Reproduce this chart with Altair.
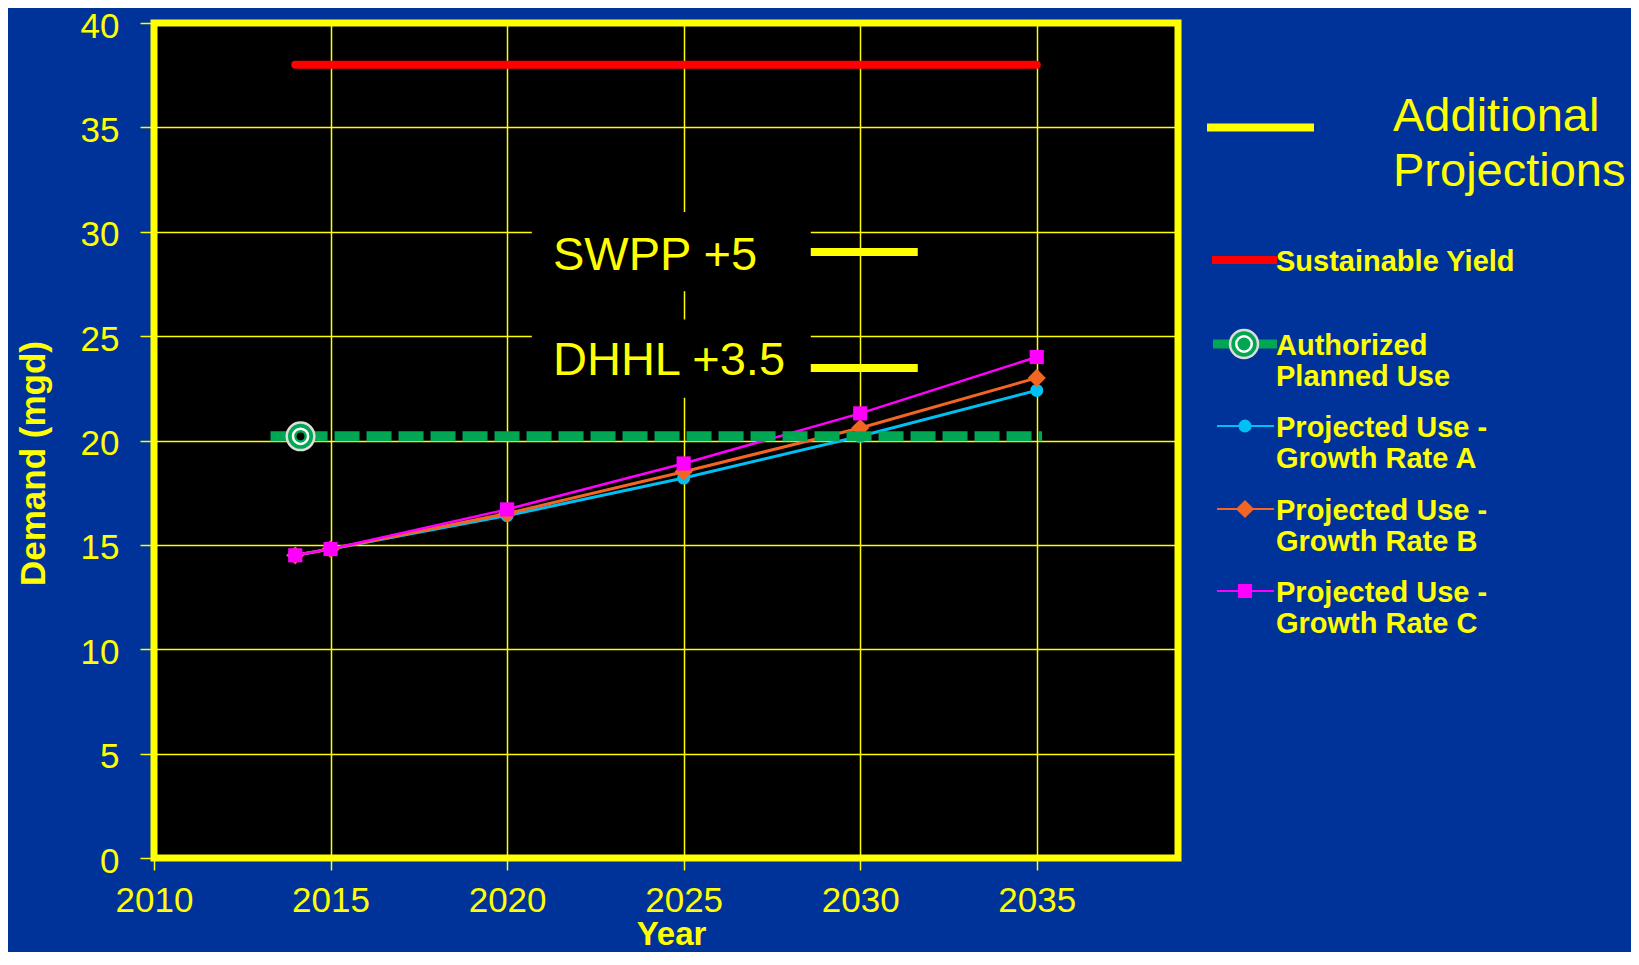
import altair as alt
import pandas as pd

# ---------------- data ----------------
years = [2014, 2015, 2020, 2025, 2030, 2035]
growth_a = [14.5, 14.8, 16.4, 18.2, 20.2, 22.4]
growth_b = [14.5, 14.8, 16.5, 18.5, 20.6, 23.0]
growth_c = [14.5, 14.8, 16.7, 18.9, 21.3, 24.0]
series_names = ["Projected Use - Growth Rate A", "Projected Use - Growth Rate B", "Projected Use - Growth Rate C"]
series_colors = ["#00BFF3", "#F26522", "#FF00FF"]
series_shapes = ["circle", "diamond", "square"]
series_sizes = [170, 330, 200]

yield_years = [2014, 2035]
yield_values = [38.0, 38.0]
planned_years = [2013.3, 2035.15]
planned_values = [20.2, 20.2]
planned_marker_year = [2014.15]
planned_marker_value = [20.2]

note_labels = ["SWPP +5", "DHHL +3.5"]
note_text_x = [2021.3, 2021.3]
note_text_y = [28.17, 23.14]
note_box_x0 = [2020.7, 2020.7]
note_box_x1 = [2028.6, 2028.6]
note_box_y0 = [27.15, 22.05]
note_box_y1 = [30.95, 25.8]
note_bar_x0 = [2028.6, 2028.6]
note_bar_x1 = [2031.63, 2031.63]
note_bar_y = [29.03, 23.47]

x_ticks = [2010, 2015, 2020, 2025, 2030, 2035]
y_ticks = [0, 5, 10, 15, 20, 25, 30, 35, 40]

legend_labels = ["Sustainable Yield", "Authorized\nPlanned Use",
                 "Projected Use -\nGrowth Rate A", "Projected Use -\nGrowth Rate B",
                 "Projected Use -\nGrowth Rate C"]
extra_label = "Additional\nProjections"

YELLOW = "#FFFF00"
GREEN = "#00A651"
RED = "#FF0000"
FONT = "Liberation Sans"

# ---------------- scales / axes ----------------
xscale = alt.Scale(domain=[2010, 2039], nice=False, zero=False)
yscale = alt.Scale(domain=[0, 40], nice=False)
xaxis = alt.Axis(values=x_ticks, format="d", title="Year", labelFontSize=35, labelPadding=13,
                 labelFlush=False, tickSize=12, titleFontSize=33, titleFontWeight="bold",
                 titleBaseline="bottom", titleY=93, titleX=517)
yaxis = alt.Axis(values=y_ticks, title="Demand (mgd)", labelFontSize=35, labelPadding=21,
                 labelFlush=False, labelOffset=3, tickSize=14, titleFontSize=35, titleFontWeight="bold",
                 titleX=-121, titleY=440, titleBaseline="middle", titleAlign="center", titleAngle=270)


def X(f):
    return alt.X(f, type="quantitative", scale=xscale, axis=xaxis)


def Y(f):
    return alt.Y(f, type="quantitative", scale=yscale, axis=yaxis)


layers = []

# annotation background boxes (hide gridlines)
notes = pd.DataFrame({"label": note_labels, "tx": note_text_x, "ty": note_text_y,
                      "x0": note_box_x0, "x1": note_box_x1, "y0": note_box_y0, "y1": note_box_y1,
                      "bx0": note_bar_x0, "bx1": note_bar_x1, "by": note_bar_y})
layers.append(alt.Chart(notes).mark_rect(color="black").encode(
    x=X("x0"), x2="x1", y=Y("y0"), y2="y1"))

# projected series
for vals, name, col, shp, sz, lw in zip([growth_a, growth_b, growth_c], series_names, series_colors,
                                        series_shapes, series_sizes, [3, 3, 2.5]):
    df = pd.DataFrame({"year": years, "value": vals, "series": name})
    layers.append(alt.Chart(df).mark_line(color=col, strokeWidth=lw).encode(x=X("year"), y=Y("value")))
    layers.append(alt.Chart(df).mark_point(filled=True, shape=shp, size=sz, color=col, opacity=1).encode(
        x=X("year"), y=Y("value")))

# authorized planned use
planned = pd.DataFrame({"year": planned_years, "value": planned_values})
layers.append(alt.Chart(planned).mark_line(color=GREEN, strokeWidth=10, strokeDash=[25, 7]).encode(
    x=X("year"), y=Y("value")))
pm = pd.DataFrame({"year": planned_marker_year, "value": planned_marker_value})
layers.append(alt.Chart(pm).mark_point(filled=True, shape="circle", size=760, fill=GREEN, stroke="#DDDDDD",
                                        strokeWidth=2.5, opacity=1).encode(x=X("year"), y=Y("value")))
layers.append(alt.Chart(pm).mark_point(filled=False, shape="circle", size=230, stroke="white",
                                        strokeWidth=2.5, opacity=1).encode(x=X("year"), y=Y("value")))
layers.append(alt.Chart(pm).mark_point(filled=True, shape="circle", size=60, color="black",
                                        opacity=1).encode(x=X("year"), y=Y("value")))

# sustainable yield
sy = pd.DataFrame({"year": yield_years, "value": yield_values})
layers.append(alt.Chart(sy).mark_line(color=RED, strokeWidth=8, strokeCap="round").encode(
    x=X("year"), y=Y("value")))

# annotation texts and bars
layers.append(alt.Chart(notes).mark_text(align="left", baseline="alphabetic", fontSize=47, font=FONT,
                                         color=YELLOW).encode(x=X("tx"), y=Y("ty"), text="label:N"))
layers.append(alt.Chart(notes).mark_rule(color=YELLOW, strokeWidth=8).encode(
    x=X("bx0"), x2="bx1", y=Y("by")))

# ---------------- manual legend (outside plot) ----------------
one = pd.DataFrame({"k": [0]})
# additional projections
layers.append(alt.Chart(one).mark_rule(color=YELLOW, strokeWidth=8).encode(
    x=alt.value(1053), x2=alt.value(1160), y=alt.value(104.5)))
layers.append(alt.Chart(pd.DataFrame({"t": [extra_label]})).mark_text(
    align="left", baseline="top", fontSize=47, font=FONT, color=YELLOW, lineBreak="\n", lineHeight=55).encode(
    x=alt.value(1239), y=alt.value(71), text="t:N"))

row_y = [237, 321, 403, 486, 568]
# symbol lines
sym_specs = [
    (RED, 8, 1058, 1123),
    (GREEN, 9, 1059, 1123),
    (series_colors[0], 2, 1063, 1120),
    (series_colors[1], 2, 1063, 1120),
    (series_colors[2], 2, 1063, 1120),
]
for (col, w, x0, x1), ry in zip(sym_specs, row_y):
    layers.append(alt.Chart(one).mark_rule(color=col, strokeWidth=w).encode(
        x=alt.value(x0), x2=alt.value(x1), y=alt.value(ry)))
# ring marker in legend
layers.append(alt.Chart(one).mark_point(filled=True, shape="circle", size=780, fill=GREEN, stroke="#DDDDDD",
                                         strokeWidth=2.5, opacity=1).encode(x=alt.value(1090), y=alt.value(row_y[1])))
layers.append(alt.Chart(one).mark_point(filled=False, shape="circle", size=240, stroke="white",
                                         strokeWidth=2.5, opacity=1).encode(x=alt.value(1090), y=alt.value(row_y[1])))
for col, shp, sz, ry in zip(series_colors, series_shapes, series_sizes, row_y[2:]):
    layers.append(alt.Chart(one).mark_point(filled=True, shape=shp, size=sz, color=col, opacity=1).encode(
        x=alt.value(1091), y=alt.value(ry)))
# legend labels
for lab, ry in zip(legend_labels, row_y):
    layers.append(alt.Chart(pd.DataFrame({"t": [lab]})).mark_text(
        align="left", baseline="top", fontSize=29, fontWeight="bold", font=FONT, color=YELLOW,
        lineBreak="\n", lineHeight=31).encode(x=alt.value(1122), y=alt.value(ry - 12.5), text="t:N"))

chart = alt.layer(*layers).properties(
    width=1024, height=835,
    padding={"left": 146, "top": 15, "right": 453, "bottom": 94},
    autosize=alt.AutoSizeParams(type="none"),
    background="#003399",
).configure_view(
    fill="black", stroke=YELLOW, strokeWidth=7
).configure_axis(
    labelColor=YELLOW, titleColor=YELLOW, tickColor=YELLOW, gridColor=YELLOW, gridWidth=1.5,
    gridOpacity=1, tickWidth=1.5, domain=False, labelFont=FONT, titleFont=FONT,
)

chart.save("out.html", embed_options={"renderer": "svg", "actions": False})
